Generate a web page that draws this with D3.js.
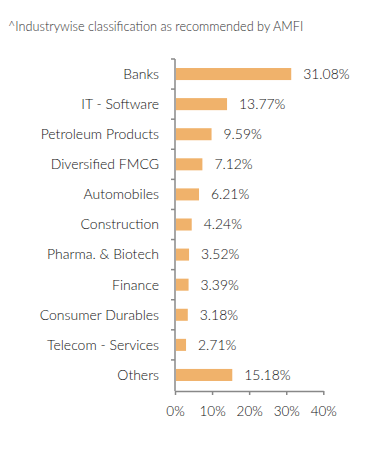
<!DOCTYPE html>
<html><head><meta charset="utf-8">
<script src="https://cdn.jsdelivr.net/npm/d3@7"></script>
<style>body{margin:0;background:#fff}svg{display:block}</style>
</head><body>
<svg id="c" width="391" height="461"></svg>
<script>
const categories = ["Banks","IT - Software","Petroleum Products","Diversified FMCG","Automobiles","Construction","Pharma. & Biotech","Finance","Consumer Durables","Telecom - Services","Others"];
const values = [31.08,13.77,9.59,7.12,6.21,4.24,3.52,3.39,3.18,2.71,15.18];
const xTicks = [0,10,20,30,40];
const title = "^Industrywise classification as recommended by AMFI";

const svg = d3.select("#c");
const font = "Lato, 'Open Sans', sans-serif";
const x = d3.scaleLinear().domain([0,40]).range([175,323.3]);
const y = d3.scaleBand().domain(categories).range([59,390]).paddingInner(0.6).paddingOuter(0.3);

svg.append("text").attr("x",8).attr("y",31).attr("font-family",font).attr("font-size",12.7)
  .attr("font-weight",300).attr("fill","#333").text(title);

svg.selectAll("rect.bar").data(values).join("rect").attr("class","bar")
  .attr("x",x(0)+1).attr("y",(d,i)=>y(categories[i])).attr("height",y.bandwidth())
  .attr("width",d=>x(d)-x(0)).attr("fill","#F0B26B");

svg.selectAll("text.val").data(values).join("text").attr("class","val")
  .attr("x",d=>x(d)+13).attr("y",(d,i)=>y(categories[i])+y.bandwidth()/2)
  .attr("dy","0.35em").attr("font-family",font).attr("font-size",13.9).attr("font-weight",300).attr("fill","#111")
  .text(d=>d.toFixed(2)+"%");

// y axis
svg.append("line").attr("x1",175).attr("x2",175).attr("y1",59).attr("y2",391).attr("stroke","#888").attr("stroke-width",1.5);
const bounds = d3.range(categories.length).map(i=>59+i*(331/categories.length));
svg.selectAll("line.yt").data(bounds).join("line").attr("class","yt")
  .attr("x1",171).attr("x2",175).attr("y1",d=>d).attr("y2",d=>d).attr("stroke","#888").attr("stroke-width",1.5);
svg.selectAll("text.cat").data(categories).join("text").attr("class","cat")
  .attr("x",159).attr("y",d=>y(d)+y.bandwidth()/2).attr("dy","0.35em").attr("text-anchor","end")
  .attr("font-family",font).attr("font-size",14).attr("font-weight",300).attr("fill","#111").text(d=>d);

// x axis
const xa = svg.append("g").attr("transform","translate(0,391)")
  .call(d3.axisBottom(x).tickValues(xTicks).tickFormat(d=>d+"%").tickSize(4).tickSizeOuter(0));
xa.select(".domain").attr("stroke","#888").attr("stroke-width",1.5);
xa.selectAll(".tick line").attr("stroke","#888").attr("stroke-width",1.5);
xa.selectAll(".tick text").attr("font-family",font).attr("font-size",13.5).attr("font-weight",300).attr("fill","#111").attr("y",15);
</script>
</body></html>
